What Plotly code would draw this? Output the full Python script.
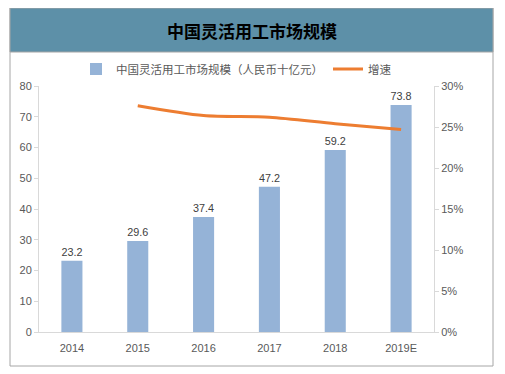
import plotly.graph_objects as go

categories = ["2014", "2015", "2016", "2017", "2018", "2019E"]
market_size = [23.2, 29.6, 37.4, 47.2, 59.2, 73.8]
growth_cats = ["2015", "2016", "2017", "2018", "2019E"]
growth = [0.276, 0.264, 0.262, 0.254, 0.247]

title_text = "中国灵活用工市场规模"
bar_name = "中国灵活用工市场规模（人民币十亿元）"
line_name = "增速"

FONT = "Noto Sans CJK SC, Liberation Sans, sans-serif"
NUMFONT = "Liberation Sans, sans-serif"
TICK_COLOR = "#595959"
AXIS_COLOR = "#d9d9d9"

# page has an 8px body margin; the figure is placed at (8, 8)
OFF = 8
W, H = 505 - OFF, 374 - OFF
# plot area in page pixels: x 39..434, y 86..332
ml, mr = 39 - OFF, 505 - 434
mt, mb = 86 - OFF, 374 - 332
pw = W - ml - mr
ph = H - mt - mb

def px_x(x):
    return (x - OFF - ml) / pw

def px_y(y):
    return (H - mb - (y - OFF)) / ph

fig = go.Figure()
fig.add_trace(go.Bar(
    x=categories, y=market_size, name=bar_name,
    marker=dict(color="#95b3d7", line=dict(width=0)),
    width=0.32,
    text=[f"{v:.1f}" for v in market_size],
    textposition="outside", cliponaxis=False,
    textfont=dict(size=11, color="#404040", family=NUMFONT),
    yaxis="y",
))
fig.add_trace(go.Scatter(
    x=growth_cats, y=growth, name=line_name, mode="lines",
    line=dict(color="#ed7d31", width=3, shape="spline", smoothing=0.8),
    yaxis="y2",
))

fig.update_layout(
    width=W, height=H,
    margin=dict(l=ml, r=mr, t=mt, b=mb, pad=0),
    paper_bgcolor="white", plot_bgcolor="white",
    font=dict(family=FONT, size=11, color=TICK_COLOR),
    showlegend=True,
    legend=dict(
        orientation="h", x=px_x(76), xanchor="left", y=px_y(69), yanchor="middle",
        font=dict(size=11.5, color=TICK_COLOR, family=FONT),
        bgcolor="rgba(0,0,0,0)", itemwidth=30, tracegroupgap=0,
    ),
    xaxis=dict(
        type="category", showline=True, linecolor=AXIS_COLOR, linewidth=1,
        ticks="", showgrid=False, tickfont=dict(size=11, color=TICK_COLOR, family=NUMFONT),
        ticklabelstandoff=6,
    ),
    yaxis=dict(
        range=[0, 80], dtick=10, showgrid=False, zeroline=False,
        showline=True, linecolor=AXIS_COLOR, linewidth=1,
        ticks="outside", ticklen=4, tickcolor=AXIS_COLOR,
        tickfont=dict(size=11, color=TICK_COLOR, family=NUMFONT),
    ),
    yaxis2=dict(
        range=[0, 0.30], dtick=0.05, tickformat=".0%", overlaying="y", side="right",
        showgrid=False, zeroline=False,
        showline=True, linecolor=AXIS_COLOR, linewidth=1,
        ticks="outside", ticklen=4, tickcolor=AXIS_COLOR,
        tickfont=dict(size=11, color=TICK_COLOR, family=NUMFONT),
    ),
    shapes=[
        dict(type="rect", xref="paper", yref="paper",
             x0=px_x(10), x1=px_x(493), y0=px_y(366), y1=px_y(8),
             line=dict(color="#a6a6a6", width=1), fillcolor="rgba(0,0,0,0)", layer="below"),
        dict(type="rect", xref="paper", yref="paper",
             x0=px_x(10), x1=px_x(493), y0=px_y(52), y1=px_y(8),
             line=dict(color="#a6a6a6", width=1), fillcolor="#5d90a8", layer="below"),
    ],
    annotations=[
        dict(text=f"<b>{title_text}</b>", xref="paper", yref="paper",
             x=px_x(252), y=px_y(30), xanchor="center", yanchor="middle",
             showarrow=False, font=dict(size=17, color="black", family=FONT)),
    ],
)

fig.write_html("out.html")
